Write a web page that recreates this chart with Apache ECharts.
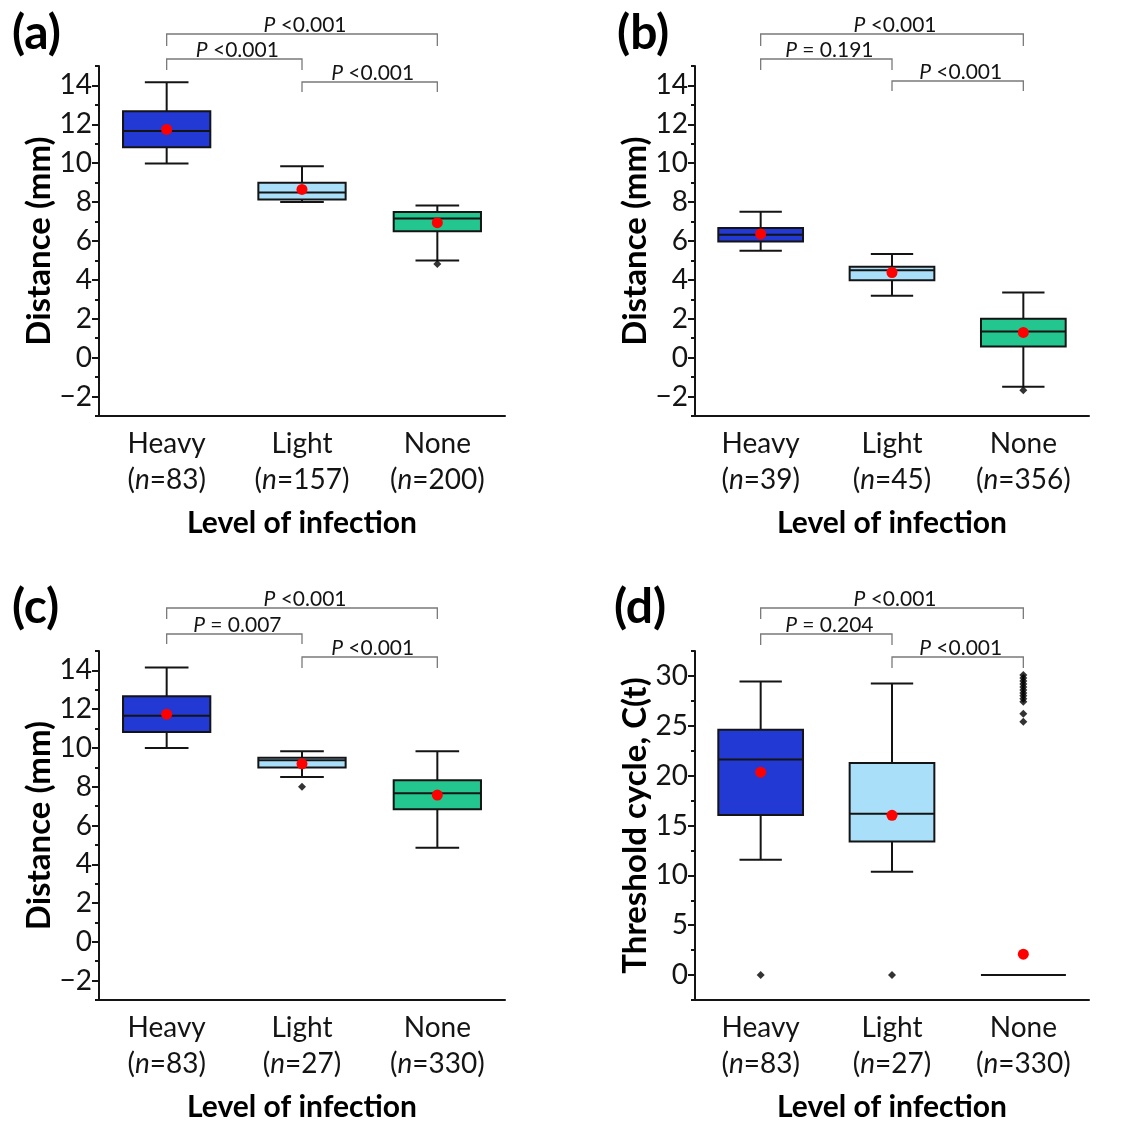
<!DOCTYPE html>
<html>
<head>
<meta charset="utf-8">
<title>Level of infection</title>
<script src="https://cdn.jsdelivr.net/npm/echarts@6/dist/echarts.min.js"></script>
<style>
  html, body { margin: 0; padding: 0; background: #fff; }
  #chart { width: 1146px; height: 1123px; }
</style>
</head>
<body>
<div id="chart"></div>
<script>
const categories = ['Heavy', 'Light', 'None'];
const boxColors = ['#2339D3', '#A9DFF8', '#23C68F'];
// comparisons: Heavy-Light, Light-None, Heavy-None
const pairs = [[0, 1], [1, 2], [0, 2]];

const ticksDistance = [-2, 0, 2, 4, 6, 8, 10, 12, 14];
const ticksCycle = [0, 5, 10, 15, 20, 25, 30];

// box rows: [lower whisker, Q1, median, Q3, upper whisker]
const nA = [83, 157, 200];
const boxA = [[9.98, 10.82, 11.66, 12.67, 14.17], [8.0, 8.14, 8.5, 8.99, 9.85], [5.0, 6.5, 7.16, 7.49, 7.83]];
const meanA = [11.74, 8.65, 6.94];
const outlierA = [[2, 4.82]];
const pA = ['<0.001', '<0.001', '<0.001'];

const nB = [39, 45, 356];
const boxB = [[5.5, 5.98, 6.32, 6.67, 7.5], [3.19, 3.98, 4.5, 4.68, 5.33], [-1.49, 0.58, 1.35, 2.0, 3.35]];
const meanB = [6.36, 4.38, 1.3];
const outlierB = [[2, -1.68]];
const pB = ['= 0.191', '<0.001', '<0.001'];

const nC = [83, 27, 330];
const boxC = [[10.0, 10.82, 11.66, 12.67, 14.15], [8.5, 8.99, 9.37, 9.49, 9.83], [4.85, 6.84, 7.66, 8.34, 9.83]];
const meanC = [11.74, 9.18, 7.57];
const outlierC = [[1, 8.0]];
const pC = ['= 0.007', '<0.001', '<0.001'];

const nD = [83, 27, 330];
const boxD = [[11.56, 16.05, 21.61, 24.61, 29.44], [10.36, 13.39, 16.18, 21.28, 29.24], [0, 0, 0, 0, 0]];
const meanD = [20.35, 16.02, 2.1];
const outlierD = [[0, 0], [1, 0], [2, 30.1], [2, 29.8], [2, 29.5], [2, 29.2], [2, 28.9], [2, 28.6],
  [2, 28.3], [2, 28.0], [2, 27.7], [2, 27.4], [2, 26.2], [2, 25.4]];
const pD = ['= 0.204', '<0.001', '<0.001'];

const FONT = 'Lato';
const INK = '#141414';

const panels = [
  { label: '(a)', n: nA, box: boxA, mean: meanA, out: outlierA, p: pA, ticks: ticksDistance,
    yMin: -3, yMax: 15, step: 1, yName: 'Distance (mm)', nameGap: 42,
    grid: { left: 99, top: 66, width: 406, height: 350 }, title: { left: 7, top: 5 },
    brackets: [[-7, 4], [16, 26], [-32, -20]] },
  { label: '(b)', n: nB, box: boxB, mean: meanB, out: outlierB, p: pB, ticks: ticksDistance,
    yMin: -3, yMax: 15, step: 1, yName: 'Distance (mm)', nameGap: 42,
    grid: { left: 695, top: 66, width: 394, height: 350 }, title: { left: 612, top: 5 },
    brackets: [[-7, 4], [15, 25], [-32, -20]] },
  { label: '(c)', n: nC, box: boxC, mean: meanC, out: outlierC, p: pC, ticks: ticksDistance,
    yMin: -3, yMax: 15, step: 1, yName: 'Distance (mm)', nameGap: 42,
    grid: { left: 99, top: 651, width: 406, height: 350 }, title: { left: 7, top: 579 },
    brackets: [[-17, -7], [6, 17], [-43, -32]] },
  { label: '(d)', n: nD, box: boxD, mean: meanD, out: outlierD, p: pD, ticks: ticksCycle,
    yMin: -2.5, yMax: 32.5, step: 2.5, yName: 'Threshold cycle, C(t)', nameGap: 42,
    grid: { left: 695, top: 651, width: 394, height: 350 }, title: { left: 609, top: 579 },
    brackets: [[-17, -6], [6, 17], [-43, -32]] }
];

function renderBox(params, api) {
  const i = api.value(0);
  const x = api.coord([i, 0])[0];
  const bw = api.size([1, 0])[0] * 0.645;
  const cw = bw / 2;
  const y = k => api.coord([i, api.value(k)])[1];
  const lo = y(1), q1 = y(2), med = y(3), q3 = y(4), hi = y(5);
  const line = (x1, y1, x2, y2) => ({ type: 'line', shape: { x1, y1, x2, y2 }, style: { stroke: INK, lineWidth: 2 } });
  return {
    type: 'group',
    children: [
      line(x, q3, x, hi), line(x, q1, x, lo),
      line(x - cw / 2, hi, x + cw / 2, hi), line(x - cw / 2, lo, x + cw / 2, lo),
      { type: 'rect', shape: { x: x - bw / 2, y: q3, width: bw, height: q1 - q3 },
        style: { fill: boxColors[i], stroke: INK, lineWidth: 2 } },
      line(x - bw / 2, med, x + bw / 2, med)
    ]
  };
}

function bracketRenderer(panel) {
  return function (params, api) {
    const k = api.value(2);
    const top = params.coordSys.y;
    const x1 = api.coord([api.value(0), 0])[0];
    const x2 = api.coord([api.value(1), 0])[0];
    const yl = top + panel.brackets[k][0];
    const yLeg = top + panel.brackets[k][1];
    return {
      type: 'group',
      children: [
        { type: 'polyline', shape: { points: [[x1, yLeg], [x1, yl], [x2, yl], [x2, yLeg]] },
          style: { stroke: '#7a7a7a', lineWidth: 1.3, fill: null } },
        { type: 'text', x: (x1 + x2) / 2 + 3, y: yl + 2,
          style: { text: '{i|P} ' + panel.p[k], fill: INK, fontSize: 21, fontFamily: FONT,
            align: 'center', verticalAlign: 'bottom',
            rich: { i: { fontStyle: 'italic', fontSize: 21, fontFamily: FONT, fill: INK } } } }
      ]
    };
  };
}

const option = { animation: false, backgroundColor: '#fff', title: [], grid: [], xAxis: [], yAxis: [], series: [] };

panels.forEach((p, g) => {
  option.title.push({ text: p.label, left: p.title.left, top: p.title.top,
    textStyle: { fontFamily: FONT, fontSize: 48, fontWeight: 'bold', color: '#000' } });
  option.grid.push(p.grid);
  option.xAxis.push({
    gridIndex: g, type: 'category', data: categories, boundaryGap: true,
    axisLine: { onZero: false, lineStyle: { color: INK, width: 2 } },
    axisTick: { alignWithLabel: true, length: 6, lineStyle: { color: INK, width: 2 } },
    axisLabel: {
      interval: 0, hideOverlap: false,
      margin: 10, fontSize: 28, fontFamily: FONT, color: INK, lineHeight: 36,
      formatter: (v, idx) => v + '\n({i|n}=' + p.n[idx] + ')',
      rich: { i: { fontStyle: 'italic', fontSize: 28, fontFamily: FONT, color: INK, lineHeight: 36 } }
    },
    name: 'Level of infection', nameLocation: 'middle', nameGap: 92,
    nameTextStyle: { fontFamily: FONT, fontSize: 30, fontWeight: 'bold', color: '#000' }
  });
  // labelled axis with long ticks
  option.yAxis.push({
    gridIndex: g, type: 'value', position: 'left', min: p.yMin, max: p.yMax, interval: p.step,
    axisLine: { show: true, onZero: false, lineStyle: { color: INK, width: 2 } },
    axisTick: { show: true, length: 7, customValues: p.ticks, lineStyle: { color: INK, width: 2 } },
    axisLabel: { customValues: p.ticks, margin: 7, fontSize: 28, fontFamily: FONT, color: INK,
      formatter: v => String(v).replace('-', '\u2212') },
    splitLine: { show: false },
    name: p.yName, nameLocation: 'middle', nameGap: p.nameGap,
    nameTextStyle: { fontFamily: FONT, fontSize: 33, fontWeight: 'bold', color: '#000' }
  });
  // minor ticks
  option.yAxis.push({
    gridIndex: g, type: 'value', position: 'left', min: p.yMin, max: p.yMax, interval: p.step,
    axisLine: { show: false, onZero: false }, axisLabel: { show: false }, splitLine: { show: false },
    axisTick: { show: true, length: 4, lineStyle: { color: INK, width: 2 } }
  });

  option.series.push({
    type: 'custom', xAxisIndex: g, yAxisIndex: 2 * g, clip: false, silent: true,
    renderItem: bracketRenderer(p),
    data: pairs.map((pr, k) => [pr[0], pr[1], k]), encode: { x: 0, y: 2 }
  });
  option.series.push({
    type: 'custom', xAxisIndex: g, yAxisIndex: 2 * g, renderItem: renderBox,
    data: p.box.map((b, i) => [i].concat(b)), encode: { x: 0, y: [1, 2, 3, 4, 5] }
  });
  option.series.push({
    type: 'scatter', xAxisIndex: g, yAxisIndex: 2 * g, symbol: 'diamond', symbolSize: 8,
    itemStyle: { color: '#000' }, data: p.out
  });
  option.series.push({
    type: 'scatter', xAxisIndex: g, yAxisIndex: 2 * g, symbol: 'circle', symbolSize: 11,
    itemStyle: { color: '#FF0000', opacity: 1 }, data: p.mean.map((m, i) => [i, m])
  });
});

const chart = echarts.init(document.getElementById('chart'));
chart.setOption(option);
</script>
</body>
</html>
